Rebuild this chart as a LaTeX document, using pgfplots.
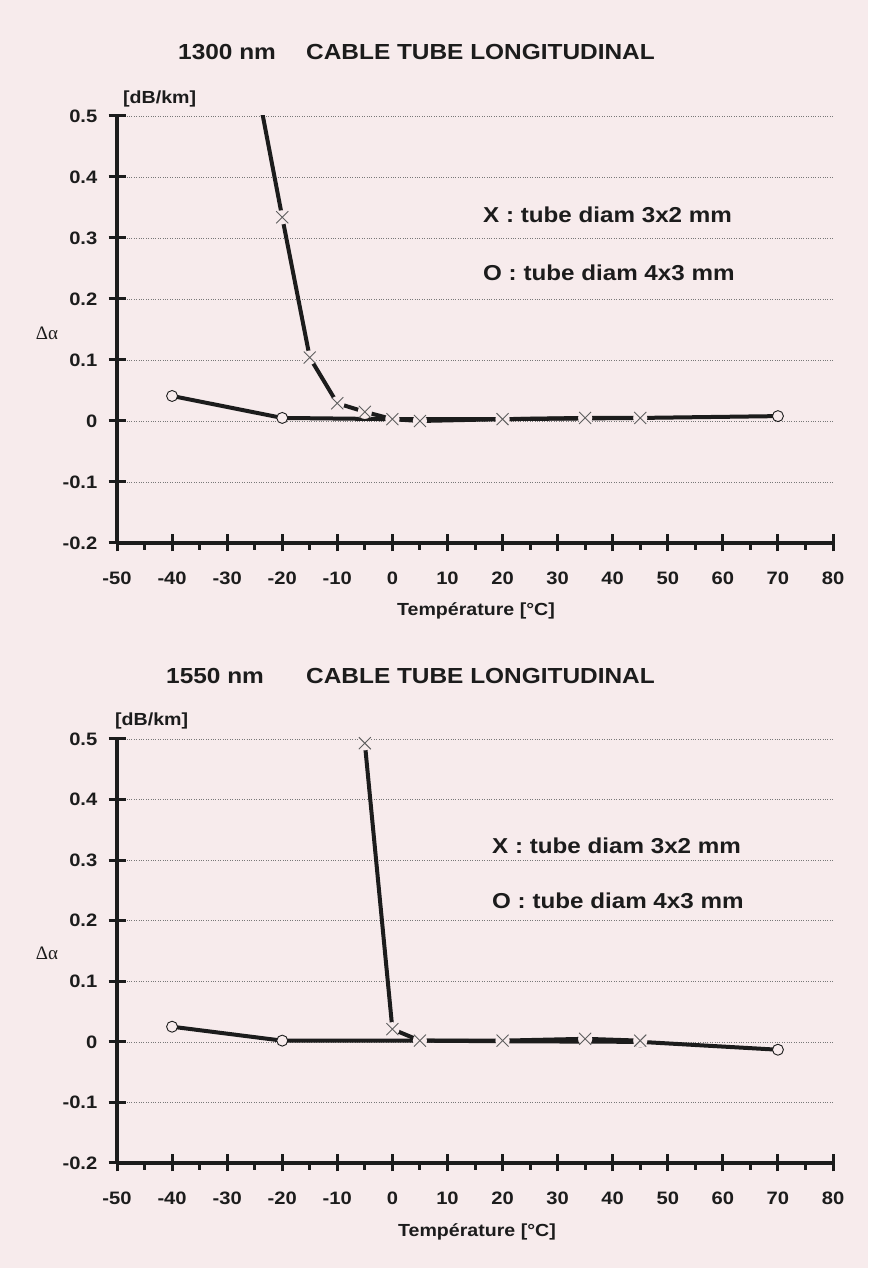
\documentclass[border=0pt]{standalone}
\usepackage{fontspec}
\setmainfont{Liberation Sans}[FakeStretch=1.12]
\newfontfamily\greekfont{Liberation Serif}
\usepackage{pgfplots}
\pgfplotsset{compat=1.18}
\usepackage{pgfplotstable}

\definecolor{bg}{RGB}{247,235,236}
\definecolor{ink}{RGB}{28,28,28}
\definecolor{gridc}{RGB}{120,120,120}
\definecolor{xmk}{RGB}{95,95,95}

\pgfplotstableread{
x y
-25 0.57
-20 0.334
-15 0.104
-10 0.029
-5 0.015
0 0.003
5 0.000
20 0.003
35 0.005
45 0.005
}\topX
\pgfplotstableread{
x y
-40 0.041
-20 0.005
0 0.003
20 0.003
45 0.005
70 0.008
}\topO
\pgfplotstableread{
x y
-5 0.493
0 0.021
5 0.002
20 0.002
35 0.005
45 0.002
}\botX
\pgfplotstableread{
x y
-40 0.025
-20 0.002
5 0.002
20 0.001
45 0.000
70 -0.013
}\botO

\newcommand{\tickfont}{\fontsize{18}{20}\selectfont\bfseries}
\newcommand{\titlefont}{\fontsize{21.8}{26}\selectfont\bfseries}
\newcommand{\legfont}{\fontsize{21.6}{26}\selectfont\bfseries}
\newcommand{\labfont}{\fontsize{17.5}{20}\selectfont\bfseries}

\pgfplotsset{myax/.style={
  scale only axis, width=716pt, anchor=south west,
  xmin=-50, xmax=80, ymin=-0.2, ymax=0.5,
  axis lines*=left,
  axis line style={line width=4.5pt, ink},
  xtick={-50,-40,...,80},
  xticklabels={-50,-40,-30,-20,-10,0,10,20,30,40,50,60,70,80},
  ytick={-0.2,-0.1,0,0.1,0.2,0.3,0.4,0.5},
  yticklabels={-0.2,-0.1,0,0.1,0.2,0.3,0.4,0.5},
  extra x ticks={-45,-35,-25,-15,-5,5,15,25,35,45,55,65,75},
  extra x tick labels={},
  extra x tick style={tick align=outside, major tick length=7pt, grid=none},
  tick align=center,
  major tick length=17pt,
  every tick/.style={ink, line width=3pt},
  ymajorgrids,
  grid style={dotted, gridc, line width=0.7pt},
  xticklabel style={font=\tickfont, text=ink, anchor=base, inner sep=0pt, yshift=-33pt},
  yticklabel style={font=\tickfont, text=ink, anchor=east, inner sep=0pt, xshift=-11pt},
}}

\begin{document}
\begin{tikzpicture}
\fill[bg] (0,0) rectangle (868pt,1268pt);

% ---------- top chart ----------
\begin{axis}[myax, at={(117pt,725pt)}, height=427pt]
\addplot[ink, line width=4pt, line join=round] table {\topO};
\addplot[only marks, mark=*, mark size=5.5pt, mark options={fill=bg, draw=ink, line width=0.9pt}] table {\topO};
\addplot[ink, line width=4pt, line join=round] table {\topX};
\addplot[only marks, mark=*, mark size=7pt, mark options={fill=bg, draw=bg, line width=0.1pt}] table {\topX};
\addplot[only marks, mark=x, mark size=8.5pt, mark options={draw=xmk, line width=0.9pt}] table {\topX};
\end{axis}

% ---------- bottom chart ----------
\begin{axis}[myax, at={(117pt,105pt)}, height=424pt]
\addplot[ink, line width=4pt, line join=round] table {\botO};
\addplot[only marks, mark=*, mark size=5.5pt, mark options={fill=bg, draw=ink, line width=0.9pt}] table {\botO};
\addplot[ink, line width=4pt, line join=round] table {\botX};
\addplot[only marks, mark=*, mark size=7pt, mark options={fill=bg, draw=bg, line width=0.1pt}] table {\botX};
\addplot[only marks, mark=x, mark size=8.5pt, mark options={draw=xmk, line width=0.9pt}] table {\botX};
\end{axis}

% ---------- texts ----------
\begin{scope}[every node/.style={inner sep=0pt, text=ink}]
\node[anchor=base west, font=\titlefont] at (178pt,1208.7pt) {1300 nm};
\node[anchor=base west, font=\titlefont] at (306pt,1208.7pt) {CABLE TUBE LONGITUDINAL};
\node[anchor=base west, font=\titlefont] at (166pt,584.7pt) {1550 nm};
\node[anchor=base west, font=\titlefont] at (306pt,584.7pt) {CABLE TUBE LONGITUDINAL};

\node[anchor=base west, font=\labfont] at (123pt,1164pt) {[dB/km]};
\node[anchor=base west, font=\labfont] at (115pt,542pt) {[dB/km]};

\node[font=\fontsize{19}{24}\selectfont\greekfont] at (47pt,935pt) {Δα};
\node[font=\fontsize{19}{24}\selectfont\greekfont] at (47pt,315pt) {Δα};

\node[anchor=base west, font=\legfont] at (483pt,1045.3pt) {X : tube diam 3x2 mm};
\node[anchor=base west, font=\legfont] at (483pt,987.3pt) {O : tube diam 4x3 mm};
\node[anchor=base west, font=\legfont] at (492pt,414pt) {X : tube diam 3x2 mm};
\node[anchor=base west, font=\legfont] at (492pt,359pt) {O : tube diam 4x3 mm};

\node[anchor=base, font=\labfont] at (476pt,652pt) {Température [°C]};
\node[anchor=base, font=\labfont] at (477pt,31.3pt) {Température [°C]};
\end{scope}
\end{tikzpicture}
\end{document}
